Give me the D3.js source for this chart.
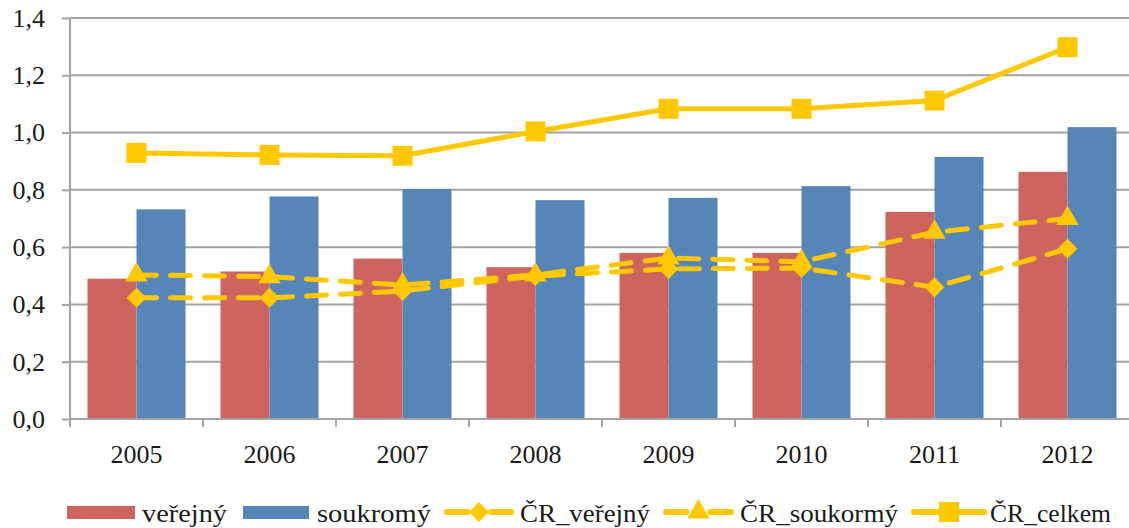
<!DOCTYPE html>
<html><head><meta charset="utf-8">
<script src="https://cdn.jsdelivr.net/npm/d3@7"></script>
<style>html,body{margin:0;padding:0;background:#fff;}svg{display:block;} text{font-family:"Liberation Serif","DejaVu Serif",serif;}</style>
</head><body>
<svg id="c" width="1129" height="528"></svg>
<script>
const years = ["2005","2006","2007","2008","2009","2010","2011","2012"];
const verejny = [0.49,0.515,0.56,0.53,0.58,0.58,0.723,0.863];
const soukromy = [0.732,0.777,0.803,0.764,0.772,0.813,0.915,1.019];
const crVerejny = [0.423,0.423,0.447,0.499,0.524,0.527,0.46,0.594];
const crSoukormy = [0.503,0.497,0.468,0.503,0.562,0.549,0.652,0.70];
const crCelkem = [0.929,0.922,0.919,1.004,1.083,1.083,1.112,1.298];
const yTicks = [0,0.2,0.4,0.6,0.8,1.0,1.2,1.4];
const legendLabels = ["veřejný","soukromý","ČR_veřejný","ČR_soukormý","ČR_celkem"];

const RED="#CD645F", BLUE="#5686B8", YEL="#FFC800", GRID="#A3A3A3", TXT="#1a1a1a";
const svg = d3.select("#c");
const m = {l:70, t:18, r:1134, b:419};
const x = d3.scaleBand().domain(years).range([m.l, m.r]).paddingInner(0).paddingOuter(0);
const y = d3.scaleLinear().domain([0,1.4]).range([m.b, m.t]);
const fmt = v => d3.format(".1f")(v).replace(".", ",");

// gridlines
svg.append("g").selectAll("line").data(yTicks.slice(1)).join("line")
  .attr("x1", m.l).attr("x2", m.r).attr("y1", d=>y(d)).attr("y2", d=>y(d))
  .attr("stroke", GRID).attr("stroke-width", 2);

// y axis
const ya = svg.append("g").attr("transform", `translate(${m.l},0)`)
  .call(d3.axisLeft(y).tickValues(yTicks).tickFormat(fmt).tickSize(8).tickPadding(17));
ya.select(".domain").attr("stroke", GRID).attr("stroke-width", 2).attr("d", `M0,${m.b}V${m.t}`);
ya.selectAll(".tick line").attr("stroke", GRID).attr("stroke-width", 2);
ya.selectAll("text").attr("font-family", null).attr("font-size", 26).attr("fill", TXT);

// bars
const bw = x.bandwidth();
const inner = d3.scaleBand().domain(["v","s"]).range([0, bw]).paddingInner(0).paddingOuter(0.357);
svg.append("g").selectAll("rect").data(years).join("rect")
  .attr("x", d=>x(d)+inner("v")).attr("width", inner.bandwidth())
  .attr("y", (d,i)=>y(verejny[i])).attr("height", (d,i)=>y(0)-y(verejny[i])).attr("fill", RED);
svg.append("g").selectAll("rect").data(years).join("rect")
  .attr("x", d=>x(d)+inner("s")).attr("width", inner.bandwidth())
  .attr("y", (d,i)=>y(soukromy[i])).attr("height", (d,i)=>y(0)-y(soukromy[i])).attr("fill", BLUE);

// x axis
const xa = svg.append("g").attr("transform", `translate(0,${m.b})`);
xa.append("line").attr("x1", m.l).attr("x2", m.r).attr("stroke", GRID).attr("stroke-width", 2);
xa.selectAll("line.tk").data(years.concat(["end"])).join("line").attr("class","tk")
  .attr("x1",(d,i)=>m.l+i*bw).attr("x2",(d,i)=>m.l+i*bw).attr("y1",0).attr("y2",8)
  .attr("stroke", GRID).attr("stroke-width", 2);
xa.selectAll("text").data(years).join("text")
  .attr("x", d=>x(d)+bw/2).attr("y", 44).attr("text-anchor","middle")
  .attr("font-size", 26).attr("fill",TXT).text(d=>d);

const cx = d => x(d)+bw/2;
const line = d3.line().x((d,i)=>cx(years[i])).y(d=>y(d));
const markers = {
  diamond: {type: d3.symbolSquare, size: 200, rot: 45},
  triangle: {type: d3.symbolTriangle, size: 220, rot: 0},
  square: {type: d3.symbolSquare, size: 400, rot: 0}
};

function series(vals, dashed, mk) {
  const g = svg.append("g");
  g.append("path").attr("d", line(vals)).attr("fill","none").attr("stroke", YEL)
    .attr("stroke-width", 5).attr("stroke-linecap", dashed ? "round":"butt")
    .attr("stroke-linejoin","round").attr("stroke-dasharray", dashed ? "20,14" : null);
  g.selectAll("path.m").data(vals).join("path").attr("class","m")
    .attr("transform",(d,i)=>`translate(${cx(years[i])},${y(d)}) rotate(${mk.rot})`)
    .attr("d", d3.symbol().type(mk.type).size(mk.size)).attr("fill", YEL);
}
series(crVerejny, true, markers.diamond);
series(crSoukormy, true, markers.triangle);
series(crCelkem, false, markers.square);

// legend (layout follows the reference's legend item extents)
const lgLayout = [
  {sw:[67,68], tx:[142,85]},
  {sw:[243,66], tx:[317,114]},
  {ln:[445,68], mk:"diamond", tx:[520,130]},
  {ln:[664,69], mk:"triangle", tx:[740,158]},
  {ln:[912,74], mk:"square", tx:[990,121]}
];
const lg = svg.append("g").attr("transform","translate(0,512)");
legendLabels.forEach((lab, i) => {
  const L = lgLayout[i], g = lg.append("g");
  if (L.sw) {
    g.append("rect").attr("x", L.sw[0]).attr("y", -6).attr("width", L.sw[1]).attr("height", 13)
      .attr("fill", i===0 ? RED : BLUE);
  } else {
    const w = L.ln[1], mk = markers[L.mk];
    g.append("line").attr("x1", L.ln[0]+2).attr("x2", L.ln[0]+w-2).attr("y1", 0).attr("y2", 0)
      .attr("stroke", YEL).attr("stroke-width", 6).attr("stroke-linecap", "round")
      .attr("stroke-dasharray", L.mk !== "square" ? `${w/2-14},24` : null);
    g.append("path").attr("transform", `translate(${L.ln[0]+w/2},0) rotate(${mk.rot})`)
      .attr("d", d3.symbol().type(mk.type).size(mk.size)).attr("fill", YEL);
  }
  g.append("text").attr("x", L.tx[0]).attr("y", 10)
    .attr("font-size", 26).attr("fill",TXT).text(lab)
    .attr("textLength", L.tx[1]).attr("lengthAdjust","spacingAndGlyphs");
});
</script>
</body></html>
